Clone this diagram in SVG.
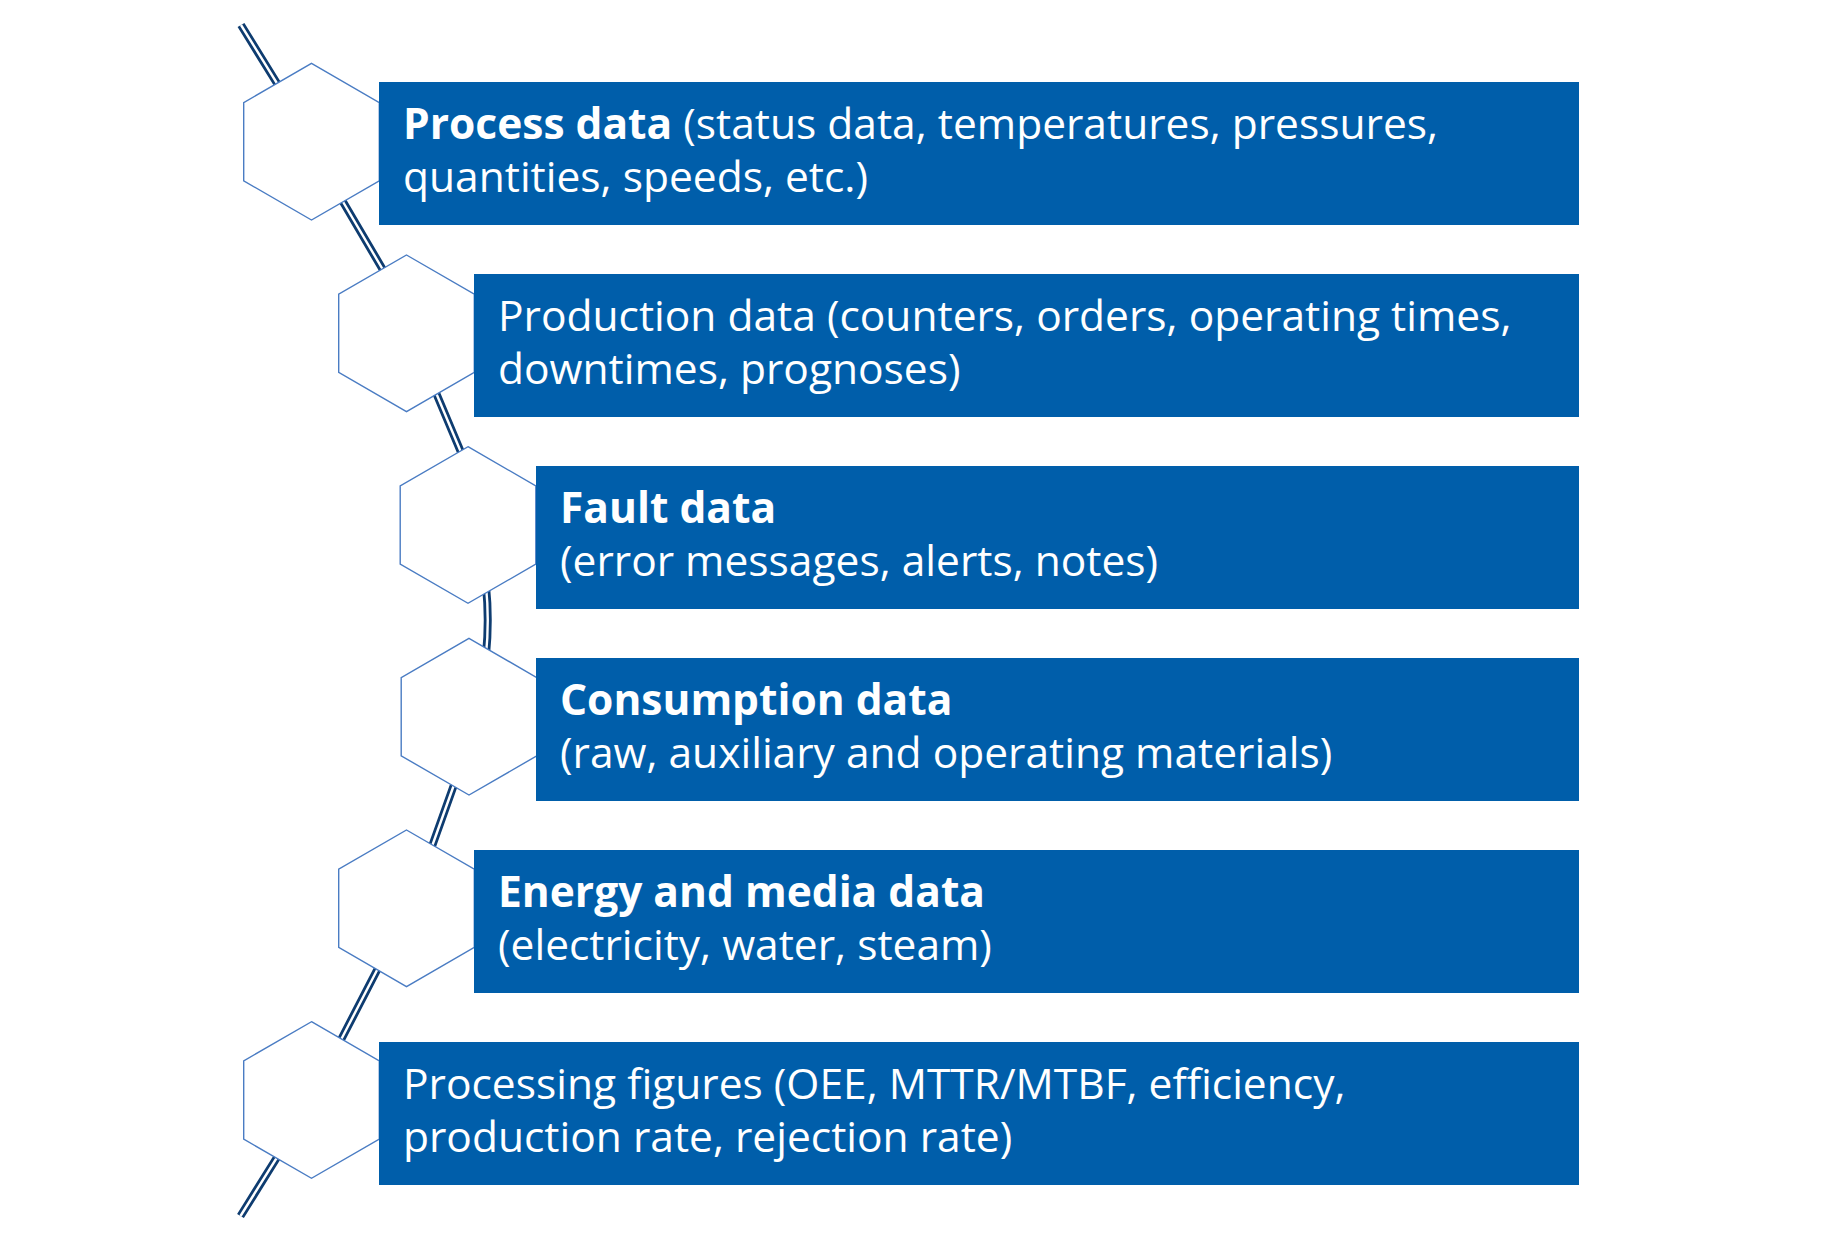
<svg xmlns="http://www.w3.org/2000/svg" width="1836" height="1249" viewBox="0 0 1836 1249">
<style>
.bg{fill:#ffffff}
.box{fill:#005eaa}
.hex{fill:#ffffff;stroke:#4a7cc3;stroke-width:1.4}
.t{font-family:"Open Sans","Noto Sans","Liberation Sans",sans-serif;font-size:42.5px;fill:#ffffff}
.b{font-weight:bold}
.lnO{fill:none;stroke:#0e3c70;stroke-width:8;stroke-linecap:butt;stroke-linejoin:round}
.lnI{fill:none;stroke:#ffffff;stroke-width:2.4;stroke-linecap:butt;stroke-linejoin:round}
</style>
<rect class="bg" x="0" y="0" width="1836" height="1249"/>
<g id="connectors">
<path class="lnO" d="M241,25 L280.5,89 L339,195 L386,275 L434,388 L463,457 L486,586 Q489.5,620 486,655 L455.7,780 L430.7,850 L380.7,963 L338.3,1045 L281,1151 L240.5,1216"/>
<path class="lnI" d="M241,25 L280.5,89 L339,195 L386,275 L434,388 L463,457 L486,586 Q489.5,620 486,655 L455.7,780 L430.7,850 L380.7,963 L338.3,1045 L281,1151 L240.5,1216"/>
</g>
<g id="node1">
<polygon class="hex" points="311.5,63.4 379.3,102.55 379.3,180.85 311.5,220 243.7,180.85 243.7,102.55"/>
<rect class="box" x="379" y="82" width="1200" height="143"/>
<text class="t" x="403" y="138.5"><tspan class="b">Process data</tspan> (status data, temperatures, pressures,</text>
<text class="t" x="403" y="191.5">quantities, speeds, etc.)</text>
</g>
<g id="node2">
<polygon class="hex" points="406.5,255 474.3,294.15 474.3,372.45 406.5,411.6 338.7,372.45 338.7,294.15"/>
<rect class="box" x="474" y="274" width="1105" height="143"/>
<text class="t" x="498" y="330.5">Production data (counters, orders, operating times,</text>
<text class="t" x="498" y="383.5">downtimes, prognoses)</text>
</g>
<g id="node3">
<polygon class="hex" points="468,446.7 535.8,485.85 535.8,564.15 468,603.3 400.2,564.15 400.2,485.85"/>
<rect class="box" x="536" y="466" width="1043" height="143"/>
<text class="t b" x="560" y="522.5">Fault data</text>
<text class="t" x="560" y="575.5">(error messages, alerts, notes)</text>
</g>
<g id="node4">
<polygon class="hex" points="469,638.4 536.8,677.55 536.8,755.85 469,795 401.2,755.85 401.2,677.55"/>
<rect class="box" x="536" y="658" width="1043" height="143"/>
<text class="t b" x="560" y="714.5">Consumption data</text>
<text class="t" x="560" y="767.5">(raw, auxiliary and operating materials)</text>
</g>
<g id="node5">
<polygon class="hex" points="406.5,830 474.3,869.15 474.3,947.45 406.5,986.6 338.7,947.45 338.7,869.15"/>
<rect class="box" x="474" y="850" width="1105" height="143"/>
<text class="t b" x="498" y="906.5">Energy and media data</text>
<text class="t" x="498" y="959.5">(electricity, water, steam)</text>
</g>
<g id="node6">
<polygon class="hex" points="311.5,1021.7 379.3,1060.85 379.3,1139.15 311.5,1178.3 243.7,1139.15 243.7,1060.85"/>
<rect class="box" x="379" y="1042" width="1200" height="143"/>
<text class="t" x="403" y="1098.5">Processing figures (OEE, MTTR/MTBF, efficiency,</text>
<text class="t" x="403" y="1151.5">production rate, rejection rate)</text>
</g>
</svg>
